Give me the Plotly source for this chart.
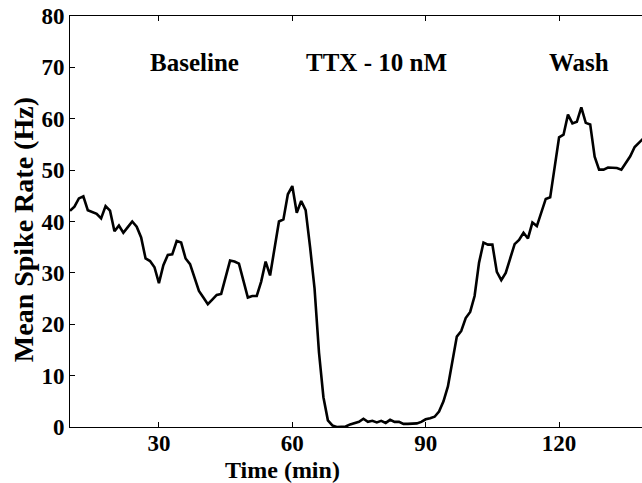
import plotly.graph_objects as go

# Mean spike rate sampled once per minute
time_min = list(range(10, 140))
spike_rate = [
    42.1, 42.9, 44.5, 44.9, 42.2, 41.9, 41.5, 40.6, 43.0, 42.1,   # 10-19
    38.1, 39.2, 37.8, 38.9, 40.0, 39.0, 36.9, 32.8, 32.3, 31.1,   # 20-29
    28.0, 31.5, 33.5, 33.6, 36.2, 35.9, 32.8, 31.7, 29.1, 26.5,   # 30-39
    25.2, 23.9, 24.8, 25.7, 25.9, 29.1, 32.4, 32.2, 31.8, 28.5,   # 40-49
    25.2, 25.5, 25.5, 28.3, 32.2, 29.5, 34.8, 40.0, 40.4, 45.3,   # 50-59
    46.9, 41.7, 44.0, 42.2, 35.0, 27.0, 14.5, 5.8, 1.3, 0.3,      # 60-69
    0.0, 0.0, 0.1, 0.5, 0.7, 1.0, 1.6, 1.0, 1.2, 0.9,             # 70-79
    1.2, 0.8, 1.4, 1.0, 1.0, 0.6, 0.6, 0.6, 0.7, 1.0,             # 80-89
    1.5, 1.7, 2.0, 3.0, 5.0, 7.9, 12.5, 17.6, 18.7, 21.2,         # 90-99
    22.4, 25.5, 32.0, 35.9, 35.5, 35.5, 30.2, 28.6, 30.0, 32.9,   # 100-109
    35.6, 36.4, 37.8, 36.7, 39.8, 39.1, 41.9, 44.4, 44.7, 50.3,   # 110-119
    56.4, 56.9, 60.8, 59.1, 59.4, 62.2, 59.2, 58.9, 52.6, 50.1,   # 120-129
    50.1, 50.5, 50.5, 50.4, 50.1, 51.4, 52.7, 54.5, 55.3, 56.2,   # 130-139
]

phase_labels = ["Baseline", "TTX - 10 nM", "Wash"]
phase_x = [38, 79, 124.5]
phase_y = 71

x_ticks = [30, 60, 90, 120]
y_ticks = [0, 10, 20, 30, 40, 50, 60, 70, 80]

x_title = "Time (min)"
y_title = "Mean Spike Rate (Hz)"

FONT = "Liberation Serif"


def bold(size):
    return dict(family=FONT, size=size, color="black", weight="bold")


fig = go.Figure()
fig.add_trace(go.Scatter(
    x=time_min, y=spike_rate, mode="lines",
    line=dict(color="black", width=2.6),
    showlegend=False,
))

for label, px in zip(phase_labels, phase_x):
    fig.add_annotation(x=px, y=phase_y, text=label, showarrow=False,
                       font=bold(25))

# axis titles placed as free text
fig.add_annotation(x=57.7, xref="x", y=-0.104, yref="paper",
                   text=x_title, showarrow=False, yanchor="middle",
                   font=bold(24))
fig.add_annotation(x=-0.082, xref="paper", y=0.479, yref="paper",
                   text=y_title, textangle=-90, showarrow=False,
                   xanchor="center", yanchor="middle", font=bold(28))

fig.update_xaxes(
    range=[10, 138.65],
    tickvals=x_ticks,
    ticks="inside", ticklen=5, tickcolor="black", tickwidth=1,
    showline=True, linecolor="black", linewidth=1, mirror="ticks",
    showgrid=False, zeroline=False,
    tickfont=bold(23), ticklabelstandoff=-5,
)
fig.update_yaxes(
    range=[0, 80],
    tickvals=y_ticks,
    ticks="inside", ticklen=5, tickcolor="black", tickwidth=1,
    showline=True, linecolor="black", linewidth=1, mirror=False,
    showgrid=False, zeroline=False,
    tickfont=bold(23),
)

fig.update_layout(
    width=642, height=483,
    margin=dict(l=70, r=0, t=16, b=56),
    plot_bgcolor="white", paper_bgcolor="white",
)

fig.write_html("out.html")
